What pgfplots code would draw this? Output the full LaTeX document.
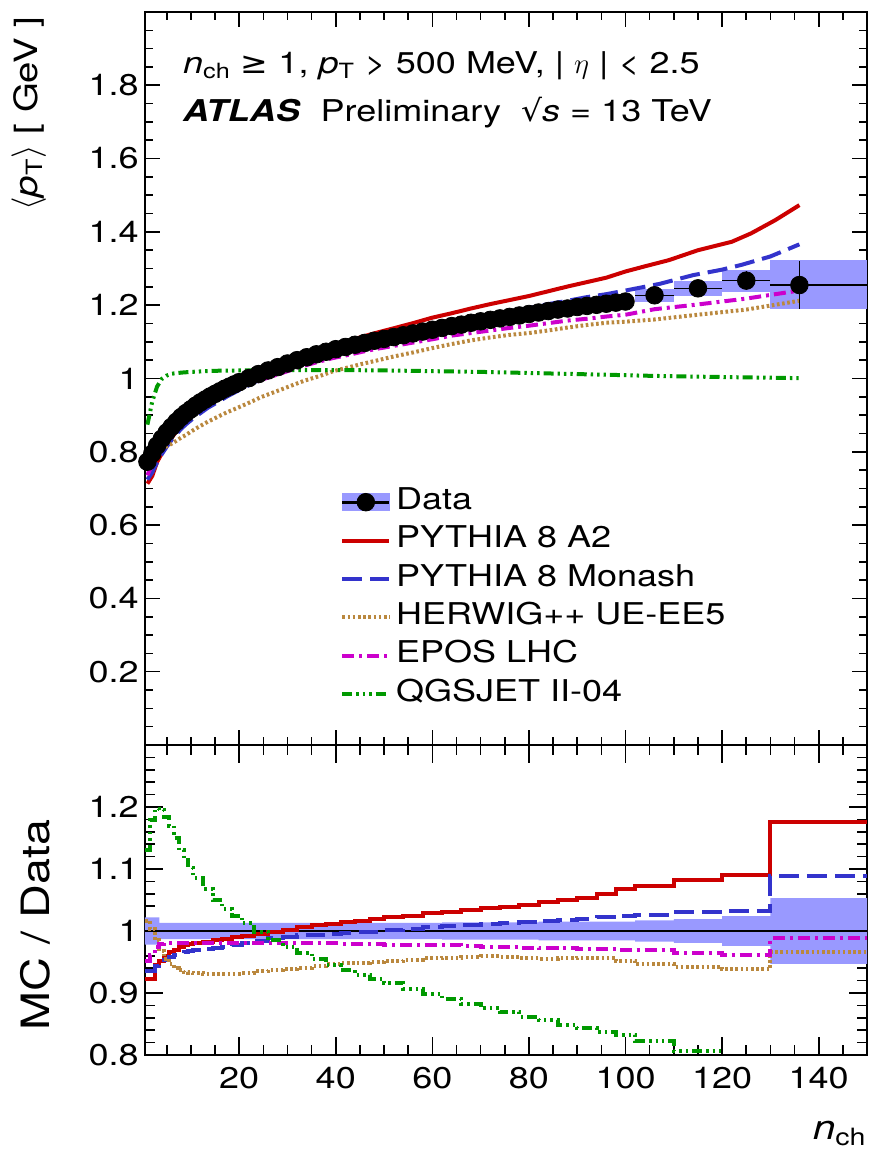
\documentclass[border=0pt]{standalone}
\usepackage{fontspec}
\setmainfont[FakeStretch=1.2]{TeX Gyre Heros}
\newfontfamily\dejavu[FakeStretch=1.1]{DejaVu Sans}
\usepackage{pgfplots}
\pgfplotsset{compat=1.18}

\definecolor{bandblue}{RGB}{153,153,255}
\definecolor{pyA2}{RGB}{204,0,0}
\definecolor{pyMon}{RGB}{51,51,204}
\definecolor{hwg}{RGB}{186,136,62}
\definecolor{epos}{RGB}{204,0,204}
\definecolor{qgs}{RGB}{0,153,0}

\newcommand\lbl{\fontsize{15}{18}\selectfont}

\pgfplotsset{
  atlas/.style={
    width=361pt, scale only axis,
    xmin=0.5, xmax=150,
    tick align=inside, tick pos=both,
    xtick={20,40,60,80,100,120,140},
    minor xtick={5,10,...,150},
    axis line style={line width=1pt},
    every tick/.style={black, line width=0.8pt},
    /pgf/number format/assume math mode=true,
    tick label style={font=\lbl},
    yticklabel style={inner sep=0pt, xshift=-3pt},
    xticklabel style={inner sep=0pt, yshift=-6pt},
  },
  a2/.style={pyA2, line width=2pt},
  mon/.style={pyMon, line width=2pt, dash pattern=on 10pt off 4pt},
  hw/.style={hwg, line width=2pt, dash pattern=on 1.3pt off 1.3pt},
  ep/.style={epos, line width=2pt, dash pattern=on 6pt off 2.5pt on 1.5pt off 2.5pt},
  qg/.style={qgs, line width=2pt, dash pattern=on 5pt off 2pt on 1.2pt off 2pt on 1.2pt off 2pt on 1.2pt off 2pt},
}

\begin{document}
\begin{tikzpicture}

% ---------------- main panel ----------------
\begin{axis}[atlas, name=top,
    height=366.5pt,
    ymin=0, ymax=2,
    ytick={0.2,0.4,0.6,0.8,1,1.2,1.4,1.6,1.8},
    minor ytick={0.05,0.1,...,1.95},
    xticklabel=\empty,
    major tick length=7.5pt, minor tick length=4pt,
    ylabel={$\langle$\textit{p}\textsubscript{T}$\rangle$ [ GeV ]},
    ylabel style={at={(rel axis cs:-0.1274,1.003)}, anchor=south east, font=\fontsize{16}{19}\selectfont},
    legend image code/.code={\draw[#1] (0pt,0pt) -- (23.5pt,0pt);},
    legend cell align=left,
    legend style={at={(rel axis cs:0.27,0.358)}, anchor=north west,
      draw=none, fill=none, inner sep=0pt, row sep=0pt, font=\lbl,
      nodes={text height=10.8pt, text depth=3.6pt, inner sep=2.4pt}},
  ]

  \addlegendimage{legend image code/.code={
      \fill[bandblue] (0pt,-4.2pt) rectangle (23.5pt,4.2pt);
      \draw[black, line width=1.5pt] (0pt,0pt) -- (23.5pt,0pt);
      \fill[black] (11.75pt,0pt) circle (4.4pt);}}
  \addlegendentry{Data}

  % data systematic boxes (wide bins)
  \addplot[fill=bandblue, draw=none, forget plot] coordinates {(102,1.208) (110,1.208) (110,1.244) (102,1.244)};
  \addplot[fill=bandblue, draw=none, forget plot] coordinates {(110,1.226) (120,1.226) (120,1.266) (110,1.266)};
  \addplot[fill=bandblue, draw=none, forget plot] coordinates {(120,1.237) (130,1.237) (130,1.296) (120,1.296)};
  \addplot[fill=bandblue, draw=none, forget plot] coordinates {(130,1.190) (150,1.190) (150,1.322) (130,1.322)};

  % PYTHIA 8 A2
  \addplot[a2] coordinates {
    (1,0.713) (2,0.734) (3,0.772) (4,0.796) (5,0.819) (6,0.838) (7,0.856) (8,0.872)
    (9,0.885) (10,0.897) (11.5,0.912) (13.5,0.931) (15.5,0.947) (17.5,0.962) (19.5,0.977)
    (21.75,0.992) (24.5,1.010) (27.5,1.028) (30.5,1.045) (33.5,1.062) (36.5,1.077)
    (39.5,1.091) (42.5,1.102) (45.5,1.114) (48.5,1.125) (52,1.137) (56,1.151) (60,1.166)
    (64,1.178) (68,1.191) (72,1.203) (76,1.214) (80,1.225) (84,1.238) (88,1.251)
    (92,1.263) (96,1.275) (100,1.292) (104,1.306) (109,1.323) (115,1.350) (122,1.373)
    (126,1.396) (131,1.432) (136,1.473)};
  \addlegendentry{PYTHIA 8 A2}

  % PYTHIA 8 Monash
  \addplot[mon] coordinates {
    (1,0.724) (2,0.744) (3,0.771) (4,0.794) (5,0.814) (6,0.832) (7,0.848) (8,0.863)
    (9,0.875) (10,0.886) (11.5,0.901) (13.5,0.920) (15.5,0.935) (17.5,0.951) (19.5,0.965)
    (21.75,0.980) (24.5,0.999) (27.5,1.017) (30.5,1.033) (33.5,1.049) (36.5,1.061)
    (39.5,1.073) (42.5,1.084) (45.5,1.094) (48.5,1.103) (52,1.114) (56,1.127) (60,1.140)
    (64,1.152) (68,1.164) (72,1.173) (76,1.183) (80,1.192) (84,1.203) (88,1.212)
    (92,1.222) (96,1.230) (100,1.240) (107,1.258) (114,1.282) (120,1.297) (124,1.310)
    (130,1.333) (136,1.366)};
  \addlegendentry{PYTHIA 8 Monash}

  % HERWIG++ UE-EE5
  \addplot[hw] coordinates {
    (1,0.785) (2,0.797) (3,0.805) (4,0.809) (5,0.815) (6,0.822) (7,0.830) (8,0.839)
    (9,0.846) (10,0.855) (11.5,0.867) (13.5,0.882) (15.5,0.895) (17.5,0.908) (19.5,0.919)
    (21.75,0.932) (24.5,0.949) (27.5,0.964) (30.5,0.979) (33.5,0.994) (36.5,1.006)
    (39.5,1.020) (42.5,1.030) (45.5,1.040) (48.5,1.049) (52,1.060) (56,1.071) (60,1.083)
    (64,1.094) (68,1.104) (72,1.112) (76,1.119) (80,1.124) (84,1.131) (88,1.139)
    (92,1.146) (96,1.152) (100,1.155) (106,1.161) (115,1.174) (125,1.188) (136,1.212)};
  \addlegendentry{HERWIG++ UE-EE5}

  % EPOS LHC
  \addplot[ep] coordinates {
    (1,0.736) (2,0.765) (3,0.796) (4,0.818) (5,0.837) (6,0.852) (7,0.865) (8,0.878)
    (9,0.889) (10,0.899) (11.5,0.912) (13.5,0.929) (15.5,0.943) (17.5,0.956) (19.5,0.968)
    (21.75,0.981) (24.5,0.996) (27.5,1.009) (30.5,1.022) (33.5,1.035) (36.5,1.046)
    (39.5,1.056) (42.5,1.064) (45.5,1.073) (48.5,1.081) (52,1.089) (56,1.098) (60,1.107)
    (64,1.117) (68,1.124) (72,1.131) (76,1.138) (80,1.144) (84,1.151) (88,1.158)
    (92,1.163) (96,1.169) (100,1.174) (106,1.189) (115,1.202) (125,1.218) (136,1.240)};
  \addlegendentry{EPOS LHC}

  % QGSJET II-04
  \addplot[qg] coordinates {
    (1,0.874) (2,0.937) (3,0.978) (4,0.999) (5,1.008) (6,1.013) (8,1.016) (10,1.018)
    (15,1.021) (20,1.022) (30,1.023) (40,1.023) (50,1.022) (60,1.020) (70,1.018)
    (80,1.015) (90,1.012) (100,1.009) (106,1.007) (115,1.005) (125,1.003) (136,1.001)};
  \addlegendentry{QGSJET II-04}

  % data
  \addplot[only marks, mark=*, mark size=4.4pt, black, forget plot] coordinates {
    (1,0.773) (2,0.795) (3,0.817) (4,0.836) (5,0.853) (6,0.868) (7,0.882) (8,0.895)
    (9,0.906) (10,0.916) (11,0.926) (12,0.935) (13,0.943) (14,0.951) (15,0.958)
    (16,0.965) (17,0.972) (18,0.978) (19,0.984) (20,0.990) (22,1.001) (24,1.012)
    (26,1.022) (28,1.031) (30,1.041) (32,1.050) (34,1.058) (36,1.066) (38,1.073)
    (40,1.080) (42,1.086) (44,1.092) (46,1.097) (48,1.103) (50,1.108) (52,1.113)
    (54,1.118) (56,1.123) (58,1.128) (60,1.133) (62,1.138) (64,1.143) (66,1.147)
    (68,1.152) (70,1.156) (72,1.160) (74,1.164) (76,1.168) (78,1.172) (80,1.176)
    (82,1.180) (84,1.184) (86,1.188) (88,1.191) (90,1.195) (92,1.198) (94,1.201)
    (96,1.204) (98,1.207) (100,1.210)};
  \addplot[only marks, mark=*, mark size=4.4pt, black, forget plot,
    error bars/.cd, x dir=both, x explicit, y dir=both, y explicit,
    error mark=none, error bar style={black, line width=0.7pt}] coordinates {
    (106,1.227) += (4,0.005) -= (4,0.005)
    (115,1.246) += (5,0.012) -= (5,0.012)
    (125,1.267) += (5,0.025) -= (5,0.025)
    (136,1.255) += (14,0.065) -= (6,0.065)};

  \node[anchor=base west, font=\lbl, xshift=18.9pt, yshift=-30.6pt, inner sep=0pt] at (rel axis cs:0,1)
    {\textit{n}\textsubscript{ch} {\dejavu ≥} 1,\ \textit{p}\textsubscript{T} > 500 MeV, | $\eta$ | < 2.5};
  \node[anchor=base west, font=\lbl, xshift=18.9pt, yshift=-54.8pt, inner sep=0pt] at (rel axis cs:0,1)
    {\textbf{\textit{ATLAS}}\ \ Preliminary\ \ {\dejavu √}\textit{s} = 13 TeV};
\end{axis}

% ---------------- ratio panel ----------------
\begin{axis}[atlas, name=bot,
    at={(top.south west)}, anchor=north west,
    height=155pt,
    ymin=0.8, ymax=1.3,
    ytick={0.8,0.9,1,1.1,1.2},
    minor ytick={0.82,0.84,...,1.28},
    major tick length=9pt, minor tick length=5pt,
    xlabel={\textit{n}\textsubscript{ch}},
    xlabel style={at={(rel axis cs:1,-0.274)}, anchor=base east, inner sep=0pt, font=\fontsize{17}{20}\selectfont},
    ylabel={MC / Data},
    ylabel style={at={(rel axis cs:-0.1219,0.42)}, anchor=south, font=\fontsize{19.5}{22}\selectfont},
    const plot mark left,
  ]
  % data uncertainty band
  \addplot[fill=bandblue, draw=none, sharp plot] coordinates {
    (0.5,1.022) (3.5,1.022) (3.5,1.013) (62,1.013) (62,1.014) (82,1.014) (82,1.015)
    (102,1.015) (102,1.017) (110,1.017) (110,1.019) (120,1.019) (120,1.024) (130,1.024)
    (130,1.053) (150,1.053) (150,0.947) (130,0.947) (130,0.976) (120,0.976) (120,0.981)
    (110,0.981) (110,0.983) (102,0.983) (102,0.985) (82,0.985) (82,0.986) (62,0.986)
    (62,0.987) (3.5,0.987) (3.5,0.978) (0.5,0.978)};
  \addplot[black, line width=0.8pt, sharp plot] coordinates {(0.5,1) (150,1)};

  % PYTHIA 8 A2
  \addplot[a2] coordinates {
    (0.5,0.923) (1.5,0.923) (2.5,0.945) (3.5,0.952) (4.5,0.960) (5.5,0.966) (6.5,0.970)
    (7.5,0.974) (8.5,0.977) (9.5,0.979) (10.5,0.981) (12.5,0.983) (14.5,0.985) (16.5,0.987)
    (18.5,0.990) (20.5,0.992) (23,0.995) (26,0.999) (29,1.002) (32,1.006) (35,1.009)
    (38,1.012) (41,1.014) (44,1.016) (47,1.019) (50,1.022) (54,1.025) (58,1.029)
    (62,1.031) (66,1.034) (70,1.037) (74,1.039) (78,1.042) (82,1.046) (86,1.050)
    (90,1.054) (94,1.059) (98,1.068) (102,1.073) (110,1.082) (120,1.091) (130,1.175)
    (150,1.175)};
  % PYTHIA 8 Monash
  \addplot[mon] coordinates {
    (0.5,0.936) (1.5,0.936) (2.5,0.944) (3.5,0.950) (4.5,0.954) (5.5,0.958) (6.5,0.962)
    (7.5,0.964) (8.5,0.966) (9.5,0.967) (10.5,0.969) (12.5,0.971) (14.5,0.973) (16.5,0.975)
    (18.5,0.978) (20.5,0.980) (23,0.984) (26,0.988) (29,0.990) (32,0.993) (35,0.994)
    (38,0.995) (41,0.997) (44,0.998) (47,0.999) (50,1.001) (54,1.004) (58,1.006)
    (62,1.008) (66,1.010) (70,1.011) (74,1.013) (78,1.014) (82,1.016) (86,1.018)
    (90,1.020) (94,1.022) (98,1.024) (102,1.026) (110,1.031) (120,1.033) (130,1.088)
    (150,1.088)};
  % HERWIG++ UE-EE5
  \addplot[hw] coordinates {
    (0.5,1.016) (1.5,1.003) (2.5,0.985) (3.5,0.968) (4.5,0.955) (5.5,0.947) (6.5,0.941)
    (7.5,0.937) (8.5,0.934) (9.5,0.933) (10.5,0.932) (12.5,0.931) (14.5,0.931) (16.5,0.931)
    (18.5,0.931) (20.5,0.932) (23,0.935) (26,0.937) (29,0.939) (32,0.941) (35,0.943)
    (38,0.946) (41,0.948) (44,0.949) (47,0.950) (50,0.952) (54,0.954) (58,0.956)
    (62,0.957) (66,0.958) (70,0.959) (74,0.958) (78,0.956) (82,0.955) (86,0.956)
    (90,0.957) (94,0.957) (98,0.952) (102,0.946) (110,0.942) (120,0.938) (130,0.966)
    (150,0.966)};
  % EPOS LHC
  \addplot[ep] coordinates {
    (0.5,0.952) (1.5,0.962) (2.5,0.974) (3.5,0.979) (4.5,0.981) (5.5,0.981) (6.5,0.981)
    (7.5,0.981) (8.5,0.981) (9.5,0.981) (10.5,0.981) (12.5,0.981) (14.5,0.981) (16.5,0.981)
    (18.5,0.981) (20.5,0.981) (23,0.981) (26,0.981) (29,0.980) (32,0.980) (35,0.980)
    (38,0.980) (41,0.979) (44,0.979) (47,0.979) (50,0.978) (54,0.978) (58,0.977)
    (62,0.977) (66,0.976) (70,0.975) (74,0.974) (78,0.973) (82,0.972) (86,0.972)
    (90,0.971) (94,0.971) (98,0.970) (102,0.969) (110,0.965) (120,0.961) (130,0.988)
    (150,0.988)};
  % QGSJET II-04
  \addplot[qg] coordinates {
    (0.5,1.131) (1.5,1.179) (2.5,1.197) (3.5,1.195) (4.5,1.184) (5.5,1.170) (6.5,1.150)
    (7.5,1.130) (8.5,1.115) (9.5,1.102) (10.5,1.086) (12.5,1.068) (14.5,1.050) (16.5,1.036)
    (18.5,1.025) (20.5,1.013) (23,0.998) (26,0.985) (29,0.975) (32,0.965) (35,0.955)
    (38,0.945) (41,0.937) (44,0.929) (47,0.923) (50,0.916) (54,0.907) (58,0.899)
    (62,0.891) (66,0.883) (70,0.876) (74,0.869) (78,0.862) (82,0.856) (86,0.849)
    (90,0.843) (94,0.837) (98,0.832) (102,0.822) (110,0.807) (120,0.807)};
\end{axis}

\pgfresetboundingbox
\path[use as bounding box] ([xshift=-72.5pt,yshift=-49pt]bot.south west) rectangle ([xshift=0.5pt,yshift=6pt]top.north east);
\end{tikzpicture}
\end{document}
